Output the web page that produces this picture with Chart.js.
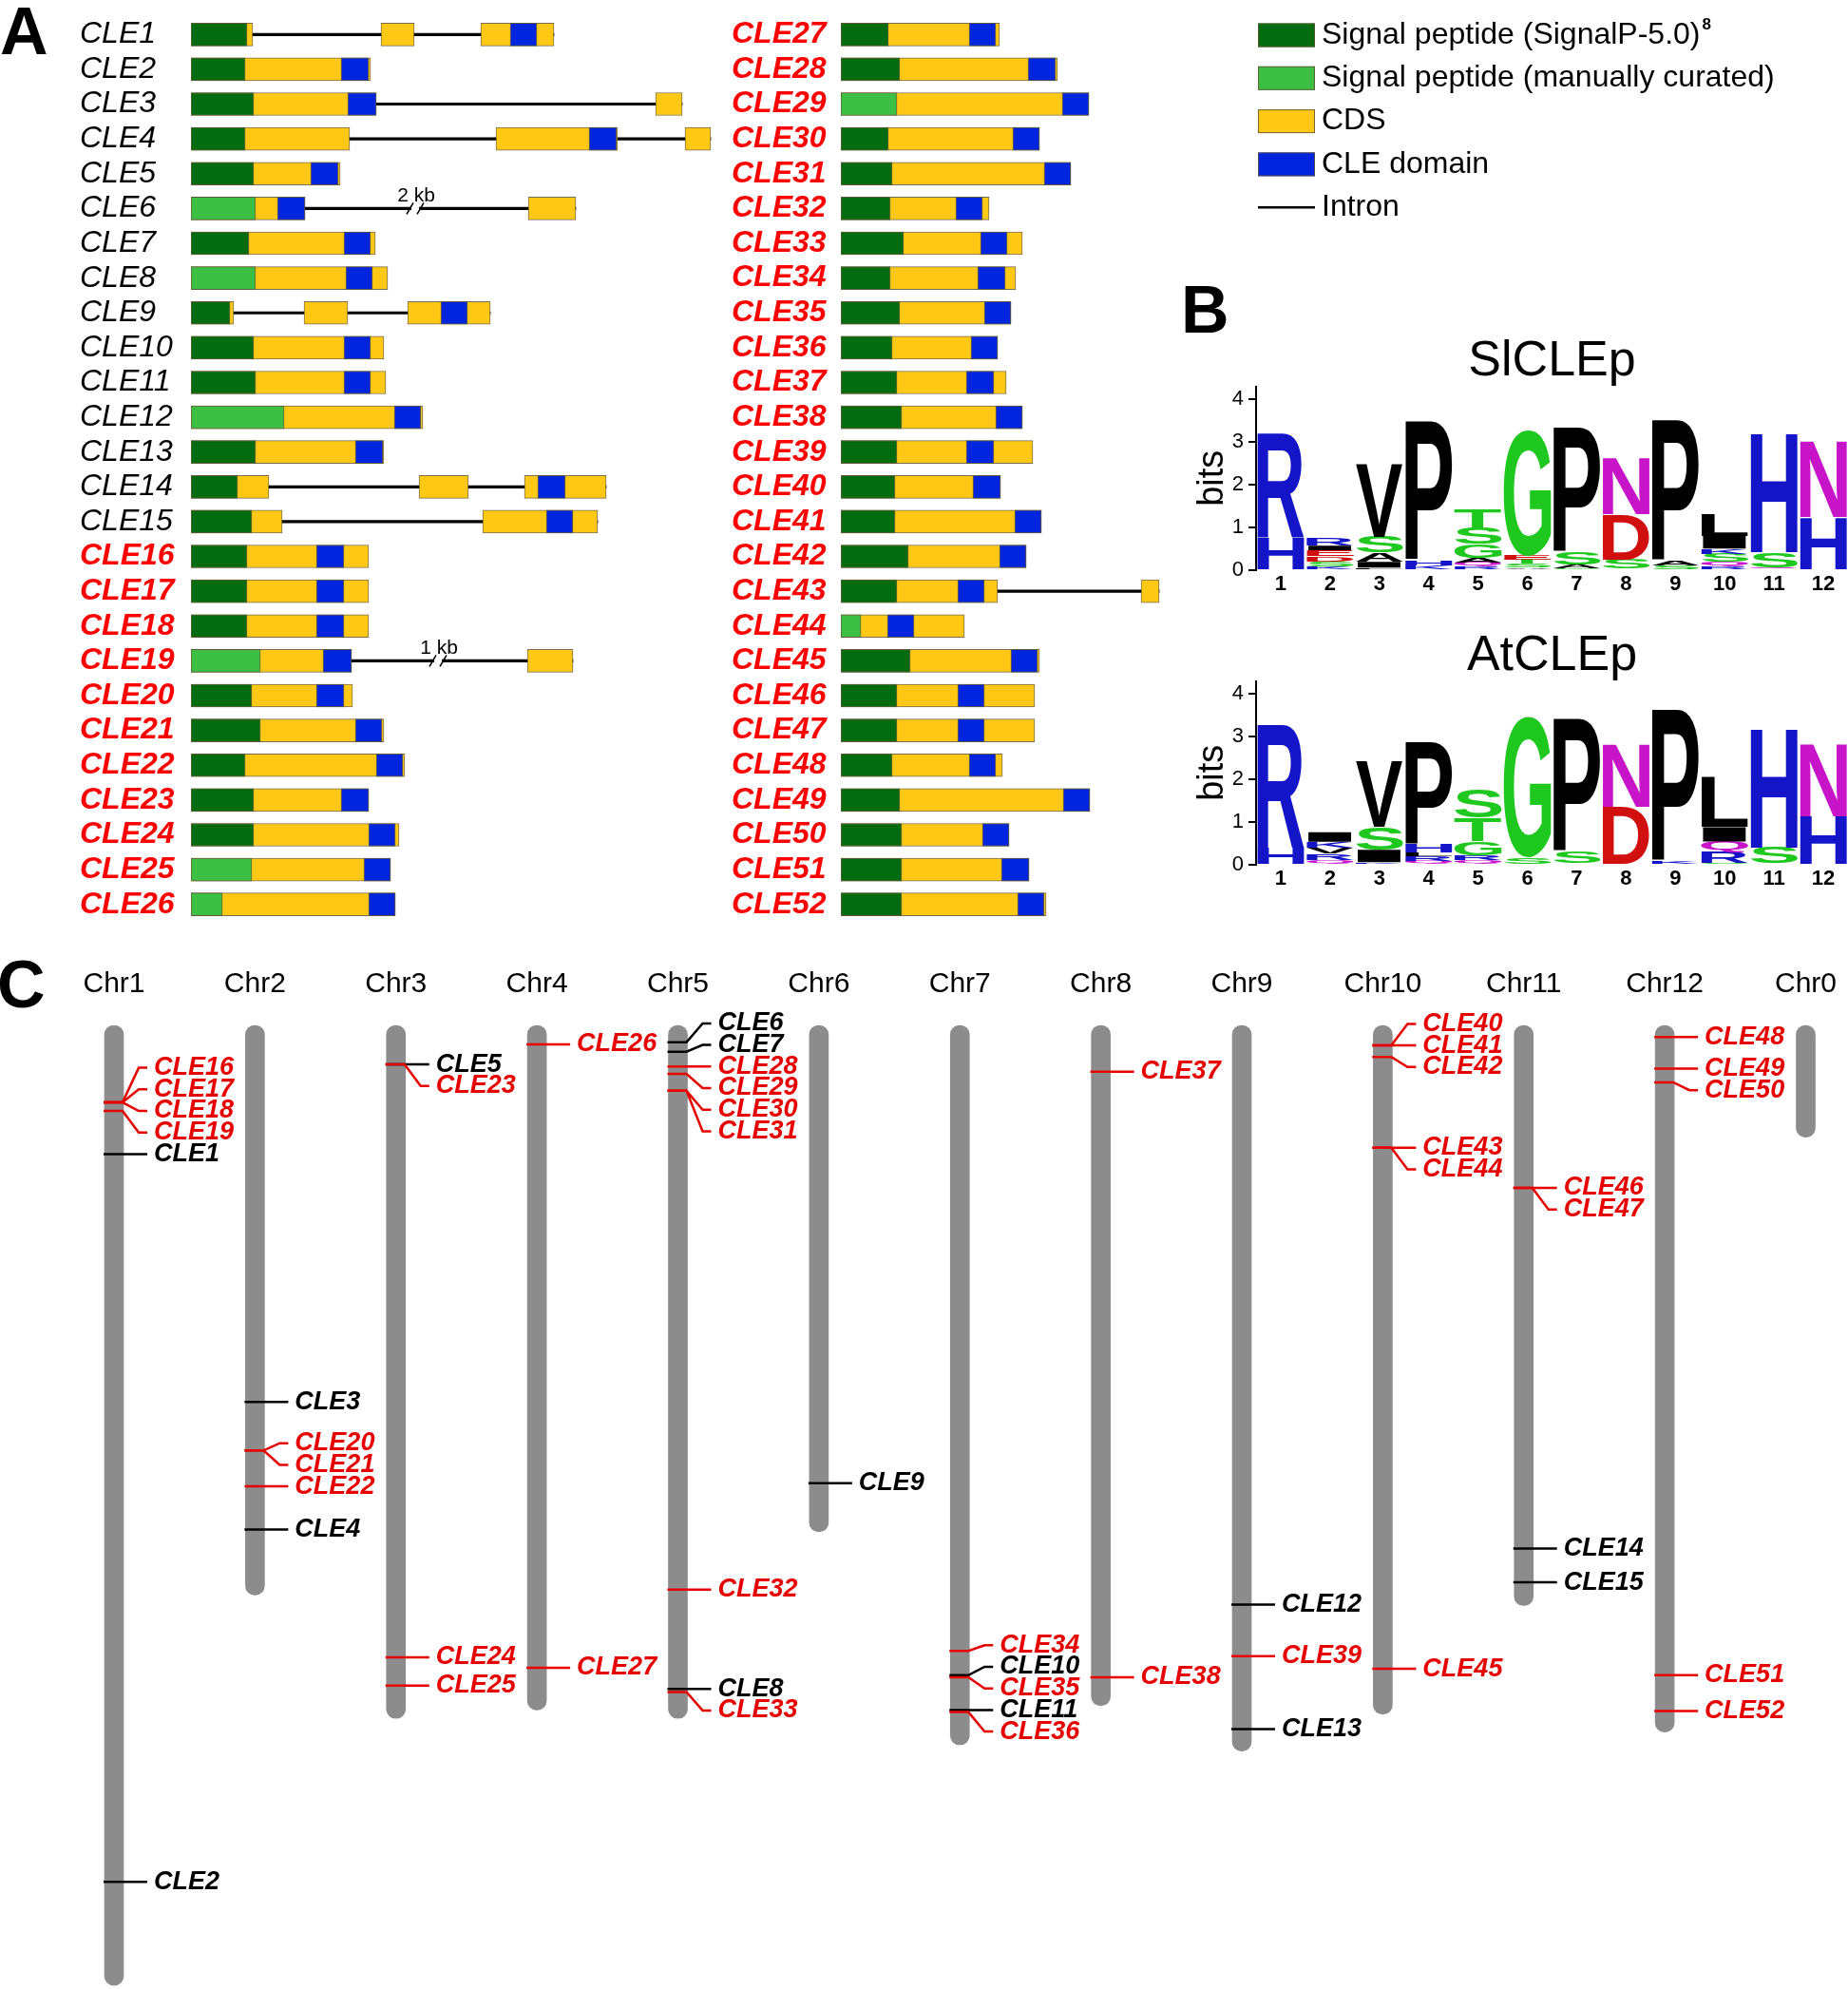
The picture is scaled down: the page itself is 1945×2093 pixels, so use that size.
<!DOCTYPE html>
<html>
<head>
<meta charset="utf-8">
<title>Tomato CLE genes</title>
<script src="https://cdn.jsdelivr.net/npm/chart.js@4.4.1/dist/chart.umd.min.js"></script>
<style>
  html, body { margin: 0; padding: 0; background: #fff; }
  #page { position: relative; width: 1945px; height: 2093px; overflow: hidden; font-family: "Liberation Sans", Arial, sans-serif; }
  canvas { position: absolute; }
  .tag { position: absolute; font-weight: bold; font-size: 70px; line-height: 70px; color: #000; }
</style>
</head>
<body>
<div id="page">
  <canvas id="genesRight" width="1205" height="986" style="left:740px;top:0"></canvas>
  <canvas id="genesLeft" width="760" height="986" style="left:0;top:0"></canvas>
  <canvas id="logoSl" width="705" height="279" style="left:1240px;top:351px"></canvas>
  <canvas id="logoAt" width="705" height="279" style="left:1240px;top:661px"></canvas>
  <canvas id="chromosomes" width="1958" height="1103" style="left:0;top:990px"></canvas>
  <div class="tag" style="left:0;top:-2px">A</div>
  <div class="tag" style="left:1243px;top:291px">B</div>
  <div class="tag" style="left:-3px;top:1001px">C</div>
</div>
<script>
const FONT = '"Liberation Sans", Arial, sans-serif';
Chart.defaults.font.family = FONT;
Chart.defaults.color = '#000';

// ---- A: gene structures, lengths in relative units ----
const leftGenes = ['CLE1','CLE2','CLE3','CLE4','CLE5','CLE6','CLE7','CLE8','CLE9','CLE10','CLE11','CLE12','CLE13',
  'CLE14','CLE15','CLE16','CLE17','CLE18','CLE19','CLE20','CLE21','CLE22','CLE23','CLE24','CLE25','CLE26'];
const leftSignal = [59,57,66,57,66,68,61,68,41,66,68,98,68,49,64,59,59,59,73,64,73,57,66,66,64,33];
const leftCurated = [0,0,0,0,0,1,0,1,0,0,0,1,0,0,0,0,0,0,1,0,0,0,0,0,1,1];
const leftExons = [
  [[0,65],[200,235],[305,382]], [[0,189]], [[0,195],[489,517]], [[0,167],[321,449],[520,547]], [[0,157]],
  [[0,120],[355,405]], [[0,194]], [[0,207]], [[0,45],[119,165],[228,315]], [[0,203]], [[0,205]], [[0,244]],
  [[0,203]], [[0,82],[240,292],[351,437]], [[0,96],[307,428]], [[0,187]], [[0,187]], [[0,187]],
  [[0,169],[354,402]], [[0,170]], [[0,203]], [[0,225]], [[0,187]], [[0,219]], [[0,210]], [[0,215]]];
const leftDomain = [[336,364],[158,187],[165,195],[419,448],[126,155],[91,120],[161,189],[163,191],[263,291],
  [161,189],[161,189],[214,242],[173,202],[365,394],[374,402],[132,161],[132,161],[132,161],[139,169],[132,161],
  [173,201],[195,223],[158,187],[187,215],[182,210],[187,215]];

const rightGenes = ['CLE27','CLE28','CLE29','CLE30','CLE31','CLE32','CLE33','CLE34','CLE35','CLE36','CLE37','CLE38','CLE39',
  'CLE40','CLE41','CLE42','CLE43','CLE44','CLE45','CLE46','CLE47','CLE48','CLE49','CLE50','CLE51','CLE52'];
const rightSignal = [50,62,59,50,54,52,66,52,62,54,59,64,59,57,57,71,59,21,73,59,59,54,62,64,64,64];
const rightCurated = [0,0,1,0,0,0,0,0,0,0,0,0,0,0,0,0,0,1,0,0,0,0,0,0,0,0];
const rightExons = [[[0,167]],[[0,228]],[[0,261]],[[0,209]],[[0,242]],[[0,156]],[[0,191]],[[0,184]],[[0,179]],
  [[0,165]],[[0,174]],[[0,191]],[[0,202]],[[0,168]],[[0,211]],[[0,195]],[[0,165],[316,335]],[[0,130]],[[0,209]],
  [[0,204]],[[0,204]],[[0,170]],[[0,262]],[[0,177]],[[0,198]],[[0,216]]];
const rightDomain = [[135,163],[197,226],[233,261],[181,209],[214,242],[121,149],[147,175],[144,173],[151,179],
  [137,165],[132,161],[163,191],[132,161],[139,168],[183,211],[167,195],[123,151],[49,77],[179,207],[123,151],
  [123,151],[135,163],[234,262],[149,177],[169,198],[186,214]];

const intronBreaks = [{gene: 'CLE6', at: 236, text: '2 kb'}, {gene: 'CLE19', at: 260, text: '1 kb'}];
const legendLabels = ['Signal peptide (SignalP-5.0)', 'Signal peptide (manually curated)', 'CDS', 'CLE domain', 'Intron'];

// ---- B: sequence logos (letters bottom -> top, heights in bits) ----
const logoPositions = ['1','2','3','4','5','6','7','8','9','10','11','12'];
const slLetters = [['H','R'],['K','S','D','E','I','R'],['L','I','A','S','V'],['K','H','P'],['R','Q','A','G','S','T'],
  ['A','S','T','E','G'],['G','A','S','P'],['S','D','N'],['S','A','P'],['R','Q','S','K','I','L'],['Q','S','H'],['H','N']];
const slBits = [[0.78,2.42],[0.08,0.12,0.12,0.14,0.11,0.18],[0.05,0.14,0.21,0.38,1.72],[0.1,0.11,3.29],
  [0.08,0.1,0.1,0.33,0.37,0.45],[0.06,0.08,0.1,0.1,2.94],[0.04,0.07,0.3,2.93],[0.24,1.07,1.34],[0.1,0.12,3.3],
  [0.08,0.1,0.2,0.12,0.3,0.5],[0.06,0.35,2.82],[1.25,1.81]];
const atLetters = [['H','R'],['Q','R','V','K','I'],['K','I','S','V'],['Q','R','L','H','P'],['Q','R','G','T','S'],
  ['S','G'],['S','P'],['D','N'],['K','P'],['S','R','Q','I','L'],['S','H'],['H','N']];
const atBits = [[0.4,2.9],[0.11,0.14,0.14,0.14,0.23],[0.05,0.3,0.53,1.55],[0.08,0.12,0.08,0.2,2.42],
  [0.1,0.12,0.33,0.55,0.67],[0.16,3.31],[0.29,3.13],[1.35,1.49],[0.08,3.57],[0.04,0.24,0.26,0.34,1.17],
  [0.4,2.82],[1.14,1.71]];

// ---- C: chromosome map (Mb) ----
const chromosomes = ['Chr1','Chr2','Chr3','Chr4','Chr5','Chr6','Chr7','Chr8','Chr9','Chr10','Chr11','Chr12','Chr0'];
const chrLength = [91.0, 54.0, 65.7, 64.9, 65.7, 48.0, 68.2, 64.5, 68.8, 65.3, 55.0, 67.0, 10.6];
const locusName = ['CLE16','CLE17','CLE18','CLE19','CLE1','CLE2',
  'CLE3','CLE20','CLE21','CLE22','CLE4',
  'CLE5','CLE23','CLE24','CLE25',
  'CLE26','CLE27',
  'CLE6','CLE7','CLE28','CLE29','CLE30','CLE31','CLE32','CLE8','CLE33',
  'CLE9',
  'CLE34','CLE10','CLE35','CLE11','CLE36',
  'CLE37','CLE38',
  'CLE12','CLE39','CLE13',
  'CLE40','CLE41','CLE42','CLE43','CLE44','CLE45',
  'CLE46','CLE47','CLE14','CLE15',
  'CLE48','CLE49','CLE50','CLE51','CLE52'];
const locusChr = ['Chr1','Chr1','Chr1','Chr1','Chr1','Chr1',
  'Chr2','Chr2','Chr2','Chr2','Chr2',
  'Chr3','Chr3','Chr3','Chr3',
  'Chr4','Chr4',
  'Chr5','Chr5','Chr5','Chr5','Chr5','Chr5','Chr5','Chr5','Chr5',
  'Chr6',
  'Chr7','Chr7','Chr7','Chr7','Chr7',
  'Chr8','Chr8',
  'Chr9','Chr9','Chr9',
  'Chr10','Chr10','Chr10','Chr10','Chr10','Chr10',
  'Chr11','Chr11','Chr11','Chr11',
  'Chr12','Chr12','Chr12','Chr12','Chr12'];
const locusMb = [7.3,7.3,7.3,8.1,12.2,81.2,
  35.7,40.3,40.3,43.7,47.8,
  3.7,3.7,59.9,62.6,
  1.8,60.9,
  1.6,2.5,3.9,4.6,6.2,6.2,53.5,62.9,63.2,
  43.4,
  59.3,61.6,61.8,64.9,65.1,
  4.4,61.8,
  54.9,59.8,66.7,
  1.9,1.9,3.0,11.6,11.6,61.0,
  15.4,15.4,49.6,52.8,
  1.1,4.1,5.4,61.6,65.0];

const COL = {sp: '#046c10', spCur: '#3dbe45', cds: '#fec815', dom: '#0025de', red: '#ff0000'};
const BOX_EDGE = 'rgba(95,85,50,0.85)';
const isNew = name => parseInt(name.slice(3), 10) >= 16;

// ---------- panel A ----------
function geneDatasets(signal, curated, exons, domain) {
  const box = {grouped: false, barThickness: 24, borderWidth: 1, borderColor: BOX_EDGE, borderSkipped: false};
  const ds = [
    {...box, label: legendLabels[0], data: signal.map((v, i) => curated[i] ? null : [0, v]), backgroundColor: COL.sp},
    {...box, label: legendLabels[1], data: signal.map((v, i) => curated[i] ? [0, v] : null), backgroundColor: COL.spCur},
    {...box, label: legendLabels[3], data: domain, backgroundColor: COL.dom}
  ];
  for (let k = 0; k < 3; k++) {
    ds.push({...box, label: legendLabels[2], data: exons.map(e => e[k] || null), backgroundColor: COL.cds});
  }
  ds.push({grouped: false, barThickness: 2.5, borderWidth: 0, label: legendLabels[4],
    data: exons.map(e => e.length > 1 ? [0, e[e.length - 1][1]] : null), backgroundColor: '#000'});
  return ds;
}

const breakPlugin = {
  id: 'intronBreaks',
  afterDatasetsDraw(chart, args, opts) {
    if (!opts.breaks) return;
    const {ctx, scales: {x, y}} = chart;
    ctx.save();
    opts.breaks.forEach(b => {
      const row = chart.data.labels.indexOf(b.gene);
      if (row < 0) return;
      const px = x.getPixelForValue(b.at), py = y.getPixelForValue(row);
      ctx.fillStyle = '#fff';
      ctx.fillRect(px - 4, py - 3, 8, 6);
      ctx.strokeStyle = '#000';
      ctx.lineWidth = 1.6;
      ctx.beginPath();
      ctx.moveTo(px - 9, py + 6); ctx.lineTo(px - 2, py - 6);
      ctx.moveTo(px + 2, py + 6); ctx.lineTo(px + 9, py - 6);
      ctx.stroke();
      ctx.fillStyle = '#000';
      ctx.font = '21px ' + FONT;
      ctx.textAlign = 'center';
      ctx.textBaseline = 'alphabetic';
      ctx.fillText(b.text, px + 1, py - 7);
    });
    ctx.restore();
  }
};

const boxLegend = {
  id: 'boxLegend',
  afterDraw(chart, args, opts) {
    if (!opts.items) return;
    const {ctx} = chart;
    ctx.save();
    opts.items.forEach((it, i) => {
      const y = opts.top + i * opts.step;
      if (it.line) {
        ctx.strokeStyle = '#000';
        ctx.lineWidth = 2.5;
        ctx.beginPath(); ctx.moveTo(opts.x, y); ctx.lineTo(opts.x + opts.w, y); ctx.stroke();
      } else {
        ctx.fillStyle = it.color;
        ctx.fillRect(opts.x, y - opts.h / 2, opts.w, opts.h);
        ctx.strokeStyle = BOX_EDGE;
        ctx.lineWidth = 1;
        ctx.strokeRect(opts.x + 0.5, y - opts.h / 2 + 0.5, opts.w - 1, opts.h - 1);
      }
      ctx.fillStyle = '#000';
      ctx.font = '32px ' + FONT;
      ctx.textAlign = 'left';
      ctx.textBaseline = 'middle';
      const tx = opts.x + opts.w + 7;
      ctx.fillText(it.text, tx, y);
      if (it.sup) {
        const w = ctx.measureText(it.text).width;
        ctx.font = 'bold 17px ' + FONT;
        ctx.fillText(it.sup, tx + w + 2, y - 11);
      }
    });
    ctx.restore();
  }
};

function geneChart(id, genes, signal, curated, exons, domain, frame, extra) {
  return new Chart(document.getElementById(id), {
    type: 'bar',
    data: {labels: genes, datasets: geneDatasets(signal, curated, exons, domain)},
    options: {
      indexAxis: 'y',
      responsive: false,
      animation: false,
      events: [],
      layout: {padding: {left: frame.left, top: 18, right: frame.right, bottom: 0}},
      scales: {
        x: {type: 'linear', min: 0, max: frame.max, display: false},
        y: {
          grid: {display: false, drawTicks: false},
          border: {display: false},
          afterFit: s => { s.width = frame.axis; },
          ticks: {
            autoSkip: false,
            crossAlign: 'far',
            padding: 0,
            color: c => isNew(genes[c.index]) ? COL.red : '#000',
            font: c => ({size: 32, lineHeight: 1, style: 'italic', weight: isNew(genes[c.index]) ? 'bold' : 'normal'})
          }
        }
      },
      plugins: Object.assign({legend: {display: false}, tooltip: {enabled: false}}, extra)
    },
    plugins: [breakPlugin, boxLegend]
  });
}

geneChart('genesLeft', leftGenes, leftSignal, leftCurated, leftExons, leftDomain,
  {left: 84, right: 0, axis: 117, max: 559}, {intronBreaks: {breaks: intronBreaks}});

geneChart('genesRight', rightGenes, rightSignal, rightCurated, rightExons, rightDomain,
  {left: 30, right: 645, axis: 115, max: 415},
  {boxLegend: {x: 584, top: 37, step: 45.3, w: 60, h: 25, items: [
    {text: legendLabels[0], color: COL.sp, sup: '8'},
    {text: legendLabels[1], color: COL.spCur},
    {text: legendLabels[2], color: COL.cds},
    {text: legendLabels[3], color: COL.dom},
    {text: legendLabels[4], line: true}
  ]}});

// ---------- panel B ----------
const LETTER_COLORS = {R: '#1414c8', H: '#1414c8', K: '#1414c8', D: '#d20f0f', E: '#d20f0f',
  N: '#c814c8', Q: '#c814c8', G: '#1ec81e', S: '#1ec81e', T: '#1ec81e', Y: '#1ec81e', C: '#1ec81e'};

function drawGlyph(ctx, ch, x, y, w, h, color) {
  ctx.save();
  ctx.font = 'bold 100px ' + FONT;
  ctx.textAlign = 'left';
  ctx.textBaseline = 'alphabetic';
  const m = ctx.measureText(ch);
  const gw = m.actualBoundingBoxLeft + m.actualBoundingBoxRight;
  const gh = m.actualBoundingBoxAscent + m.actualBoundingBoxDescent;
  ctx.translate(x, y + h);
  ctx.scale(w / gw, h / gh);
  ctx.fillStyle = color;
  ctx.fillText(ch, m.actualBoundingBoxLeft, -m.actualBoundingBoxDescent);
  ctx.restore();
}

const letterPlugin = {
  id: 'letters',
  afterDatasetsDraw(chart) {
    const ctx = chart.ctx;
    chart.data.datasets.forEach((ds, di) => {
      chart.getDatasetMeta(di).data.forEach((bar, i) => {
        const ch = ds.letters[i];
        if (!ch) return;
        const {x, y, base, width} = bar.getProps(['x', 'y', 'base', 'width'], true);
        const top = Math.min(y, base), h = Math.abs(base - y);
        if (h < 0.5) return;
        const w = width * 0.96;
        drawGlyph(ctx, ch, x - w / 2, top, w, h, LETTER_COLORS[ch] || '#000');
      });
    });
  }
};

function logoChart(id, letters, bits, title) {
  const layers = Math.max(...letters.map(c => c.length));
  const datasets = [];
  for (let k = 0; k < layers; k++) {
    datasets.push({
      data: bits.map(b => b[k] || 0),
      letters: letters.map(c => c[k] || ''),
      backgroundColor: 'rgba(0,0,0,0)',
      borderWidth: 0,
      categoryPercentage: 1,
      barPercentage: 1,
      stack: 'logo'
    });
  }
  return new Chart(document.getElementById(id), {
    type: 'bar',
    data: {labels: logoPositions, datasets},
    options: {
      responsive: false,
      animation: false,
      events: [],
      layout: {padding: {top: 4, left: 0, right: 0, bottom: 0}},
      scales: {
        x: {stacked: true, grid: {display: false, drawTicks: false}, border: {display: false},
          ticks: {font: {size: 22, weight: 'bold'}, padding: 2, maxRotation: 0}},
        y: {stacked: true, min: 0, max: 4.3,
          afterFit: s => { s.width = 82; },
          ticks: {stepSize: 1, includeBounds: false, font: {size: 22}, padding: 5},
          grid: {drawOnChartArea: false, drawTicks: true, tickLength: 8, color: '#000', lineWidth: 2},
          border: {display: true, color: '#000', width: 2},
          title: {display: true, text: 'bits', font: {size: 38}, padding: {top: 14, bottom: 0}}}
      },
      plugins: {
        legend: {display: false},
        tooltip: {enabled: false},
        title: {display: true, text: title, fullSize: false, padding: 0,
          font: {size: 52, weight: 'normal', lineHeight: 1}}
      }
    },
    plugins: [letterPlugin]
  });
}

logoChart('logoSl', slLetters, slBits, 'SlCLEp');
logoChart('logoAt', atLetters, atBits, 'AtCLEp');

// ---------- panel C ----------
const LABEL_GAP = 22.7;

// overlapping labels are stacked at a fixed gap; each stack sits where the
// sum of label displacements is smallest (upper median)
function spreadLabels(ys, gap) {
  const groups = ys.map(v => ({ys: [v], top: v}));
  const settle = g => {
    const cand = g.ys.map((v, k) => v - k * gap).sort((a, b) => a - b);
    g.top = cand[Math.floor(cand.length / 2)];
  };
  let merged = true;
  while (merged) {
    merged = false;
    for (let i = 0; i < groups.length - 1; i++) {
      const a = groups[i], b = groups[i + 1];
      if (a.top + a.ys.length * gap > b.top + 0.5) {
        a.ys = a.ys.concat(b.ys);
        settle(a);
        groups.splice(i + 1, 1);
        merged = true;
        break;
      }
    }
  }
  return groups.flatMap(g => g.ys.map((_, k) => g.top + k * gap));
}

const lociPlugin = {
  id: 'loci',
  afterDatasetsDraw(chart) {
    const {ctx, scales: {x, y}} = chart;
    ctx.save();
    ctx.lineWidth = 2.5;
    ctx.font = 'italic bold 27px ' + FONT;
    ctx.textBaseline = 'middle';
    ctx.textAlign = 'left';
    chromosomes.forEach((chr, ci) => {
      const idx = locusChr.map((c, i) => c === chr ? i : -1).filter(i => i >= 0)
        .sort((a, b) => locusMb[a] - locusMb[b]);
      if (!idx.length) return;
      const cx = x.getPixelForValue(ci);
      const marks = idx.map(i => y.getPixelForValue(locusMb[i]));
      const labs = spreadLabels(marks, LABEL_GAP);
      idx.forEach((i, k) => {
        const color = isNew(locusName[i]) ? '#e60000' : '#000';
        const my = marks[k], ly = labs[k];
        ctx.strokeStyle = color;
        ctx.beginPath();
        ctx.moveTo(cx - 11, my);
        if (Math.abs(ly - my) < 1.5) {
          ctx.lineTo(cx + 35, my);
        } else {
          ctx.lineTo(cx + 9, my);
          ctx.lineTo(cx + 26, ly);
          ctx.lineTo(cx + 35, ly);
        }
        ctx.stroke();
        ctx.fillStyle = color;
        ctx.fillText(locusName[i], cx + 42, ly);
      });
    });
    ctx.restore();
  }
};

new Chart(document.getElementById('chromosomes'), {
  type: 'bar',
  data: {
    labels: chromosomes,
    datasets: [{
      data: chrLength.map(l => [0, l]),
      backgroundColor: '#8c8c8c',
      barThickness: 20,
      borderRadius: 10,
      borderSkipped: false,
      clip: false
    }]
  },
  options: {
    responsive: false,
    animation: false,
    events: [],
    layout: {padding: {left: 120, right: 0, top: 3, bottom: 0}},
    scales: {
      x: {position: 'top', offset: false, grid: {display: false, drawTicks: false}, border: {display: false},
        ticks: {font: {size: 30}, padding: 25, maxRotation: 0, autoSkip: false}},
      y: {display: false, reverse: true, min: 0, max: 91.35}
    },
    plugins: {legend: {display: false}, tooltip: {enabled: false}}
  },
  plugins: [lociPlugin]
});
</script>
</body>
</html>
